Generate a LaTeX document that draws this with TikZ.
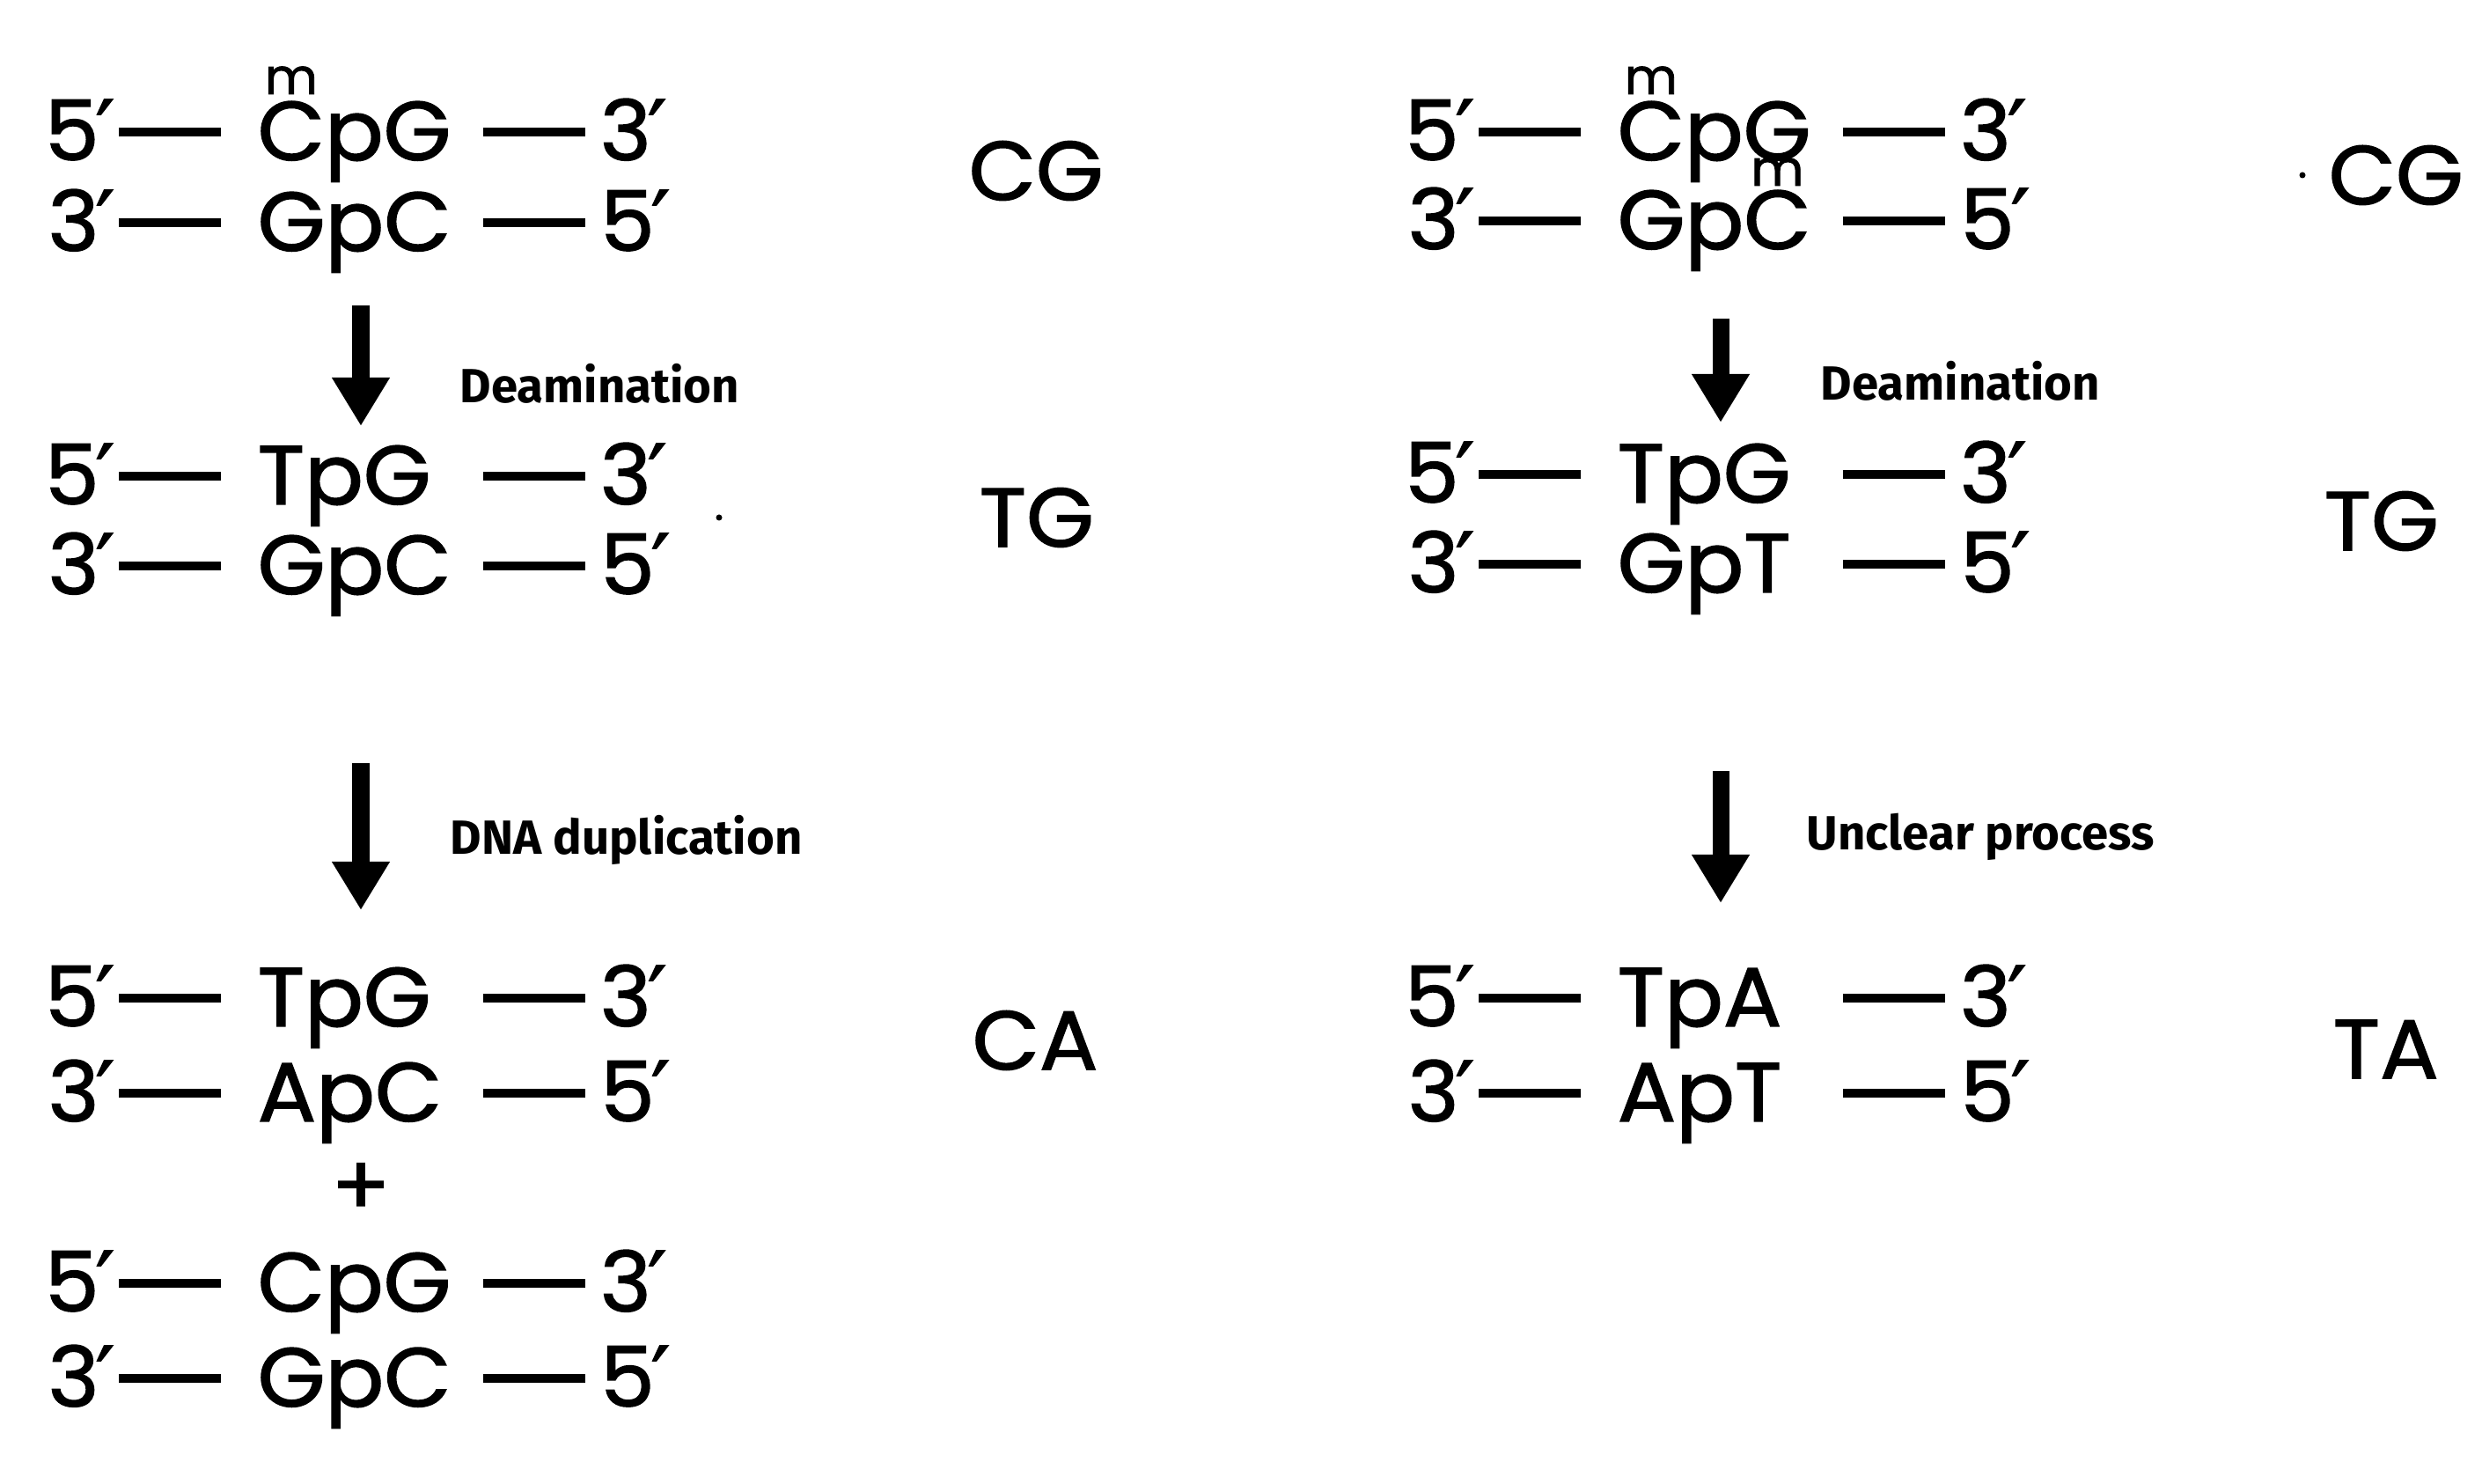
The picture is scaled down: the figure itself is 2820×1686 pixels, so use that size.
\documentclass[tikz,border=0pt]{standalone}
\usepackage{fontspec}
\setmainfont{Poppins}[FakeBold=1.5, FakeStretch=1.04]
\newfontfamily\pf{DejaVu Sans}[FakeBold=1.5]
\newfontfamily\lf{Fira Sans}
\usetikzlibrary{arrows.meta}
\newcommand\dnadash{\rule[0.27cm]{1.16cm}{0.095cm}}
\newcommand\pr{\kern-0.04cm{\pf ′}}
\newcommand\mCr[1]{\leavevmode\rlap{\makebox[\fontcharwd\font`\C][c]{\raisebox{#1}{\fontsize{16pt}{16pt}\selectfont m}}}C}
\newcommand\mC{\mCr{0.75cm}}
\newcommand\dnarow[6]{%
  \node[dna, anchor=base east] (#1a) at (252+#2, #3) {#4\pr\kern0.05cm\dnadash};
  \node[dna, anchor=base west] (#1b) at (292+#2, #3) {#5};
  \node[dna, anchor=base west] (#1c) at (548+#2, #3) {\dnadash\kern0.17cm #6\pr};
}
\begin{document}
\begin{tikzpicture}[x=0.01cm, y=-0.01cm,
  dna/.style={inner sep=0pt, font=\fontsize{27pt}{29pt}\selectfont},
  lab/.style={inner sep=0pt, font=\lf\bfseries\fontsize{15.5pt}{17pt}\selectfont},
  bigarrow/.style={line width=0.19cm, -{Triangle[length=0.55cm, width=0.62cm]}}]
\useasboundingbox (0,0) rectangle (2820,1686);
% left column
\dnarow{L1}{0}{182}{5}{\mC pG}{3}
\dnarow{L2}{0}{285}{3}{GpC}{5}
\dnarow{L3}{0}{573}{5}{TpG}{3}
\dnarow{L4}{0}{675}{3}{GpC}{5}
\dnarow{L5}{0}{1166}{5}{TpG}{3}
\dnarow{L6}{0}{1274}{3}{ApC}{5}
\node[dna] (plus) at (410,1351) {+};
\dnarow{L7}{0}{1490}{5}{CpG}{3}
\dnarow{L8}{0}{1598}{3}{GpC}{5}
\node[dna, anchor=west] (cg1) at (1100,194) {CG};
\node[dna, anchor=west] (tg1) at (1112,588) {TG};
\node[dna, anchor=west] (ca1) at (1104,1182) {CA};
\coordinate (la1s) at (410,347);
\coordinate (la1e) at (410,484);
\coordinate (la2s) at (410,867);
\coordinate (la2e) at (410,1034);
\draw[bigarrow] (la1s) -- (la1e);
\draw[bigarrow] (la2s) -- (la2e);
\node[lab, anchor=base west] (deam1) at (522,458) {Deamination};
\node[lab, anchor=base west] (dup) at (511,971) {DNA duplication};
% right column
\dnarow{R1}{1545}{182}{5}{\mC pG}{3}
\dnarow{R2}{1545}{283}{3}{Gp\mCr{0.72cm}}{5}
\dnarow{R3}{1545}{571}{5}{TpG}{3}
\dnarow{R4}{1545}{673}{3}{GpT}{5}
\dnarow{R5}{1545}{1166}{5}{TpA}{3}
\dnarow{R6}{1545}{1274}{3}{ApT}{5}
\node[dna, anchor=west] (cg2) at (2645,199) {CG};
\node[dna, anchor=west] (tg2) at (2640,592) {TG};
\node[dna, anchor=west] (ta2) at (2650,1192) {TA};
\coordinate (ra1s) at (1955,362);
\coordinate (ra1e) at (1955,480);
\coordinate (ra2s) at (1955,876);
\coordinate (ra2e) at (1955,1026);
\draw[bigarrow] (ra1s) -- (ra1e);
\draw[bigarrow] (ra2s) -- (ra2e);
\node[lab, anchor=base west] (deam2) at (2068,455) {Deamination};
\node[lab, anchor=base west] (unc) at (2052,966) {Unclear process};
% specks
\fill (817,588) circle[radius=0.035cm];
\fill (2616,199) circle[radius=0.035cm];
\end{tikzpicture}
\end{document}
